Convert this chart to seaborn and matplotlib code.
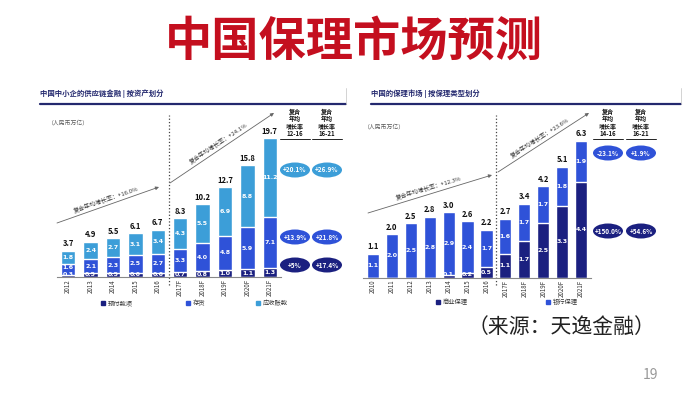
import numpy as np
import pandas as pd
import matplotlib
matplotlib.use("Agg")
import matplotlib.pyplot as plt
import seaborn as sns
from matplotlib.patches import Ellipse

# ---- chart data (人民币万亿) ----
left_years = ["2012", "2013", "2014", "2015", "2016",
              "2017F", "2018F", "2019F", "2020F", "2021F"]
left_prepaid = [0.3, 0.5, 0.5, 0.6, 0.6, 0.7, 0.8, 1.0, 1.1, 1.3]       # 预付款项
left_inventory = [1.6, 2.1, 2.3, 2.5, 2.7, 3.3, 4.0, 4.8, 5.9, 7.1]     # 存货
left_receivable = [1.8, 2.4, 2.7, 3.1, 3.4, 4.3, 5.5, 6.9, 8.8, 11.2]   # 应收账款
left_totals = [3.7, 4.9, 5.5, 6.1, 6.7, 8.3, 10.2, 12.7, 15.8, 19.7]

right_years = ["2010", "2011", "2012", "2013", "2014", "2015", "2016",
               "2017F", "2018F", "2019F", "2020F", "2021F"]
right_commercial = [0, 0, 0, 0, 0.1, 0.2, 0.5, 1.1, 1.7, 2.5, 3.3, 4.4]  # 商业保理
right_bank = [1.1, 2.0, 2.5, 2.8, 2.9, 2.4, 1.7, 1.6, 1.7, 1.7, 1.8, 1.9]  # 银行保理
right_totals = [1.1, 2.0, 2.5, 2.8, 3.0, 2.6, 2.2, 2.7, 3.4, 4.2, 5.1, 6.3]

left_cagr = ["复合年均增长率：+16.0%", "复合年均增长率：+24.1%"]
right_cagr = ["复合年均增长率：+12.3%", "复合年均增长率：+23.6%"]
left_bubbles = [["+20.1%", "+26.9%"], ["+13.9%", "+21.8%"], ["+5%", "+17.4%"]]
right_bubbles = [["-23.1%", "+1.9%"], ["+150.0%", "+54.6%"]]

# colours
NAVY = "#1b2080"
BLUE = "#2f52d8"
LIGHT = "#3c9ed8"
HEAD = "#23286e"

sns.set_style("white")
plt.rcParams["font.family"] = ["Noto Sans CJK SC", "DejaVu Sans"]

W, H = 700, 393
fig = plt.figure(figsize=(W / 100, H / 100), dpi=100)
fig.patch.set_facecolor("white")


def box(x0, y0, x1, y1):
    """pixel box (top-left origin) -> figure fraction rect"""
    return [x0 / W, 1 - y1 / H, (x1 - x0) / W, (y1 - y0) / H]


def stacked(ax, years, segments, colors, totals, ymax, min_lab, gap):
    df = pd.DataFrame({"year": years})
    tops = np.cumsum(np.array(segments), axis=0)
    # draw from the top segment down so lower ones overlay
    for i in range(len(segments) - 1, -1, -1):
        df["v"] = tops[i]
        sns.barplot(data=df, x="year", y="v", order=years, color=colors[i],
                    saturation=1, width=0.64, ax=ax, errorbar=None)
    bottoms = np.vstack([np.zeros(len(years)), tops[:-1]])
    for j in range(len(years)):
        prev = None
        for i, seg in enumerate(segments):
            v = seg[j]
            if v <= 0:
                continue
            y = bottoms[i][j] + max(v / 2, min_lab)
            if prev is not None and y - prev < gap:
                y = prev + gap   # keep stacked labels from touching
            prev = y
            ax.text(j, y, f"{v:.1f}", ha="center", va="center",
                    fontsize=4.5, color="white", fontweight="bold",
                    family="DejaVu Sans")
    for j, t in enumerate(totals):
        ax.text(j, tops[-1][j] + ymax * 0.015, f"{t:.1f}", ha="center",
                va="bottom", fontsize=5.5, fontweight="bold", color="#111")
    ax.set_ylim(0, ymax)
    ax.set_xlim(-0.5, len(years) - 0.5)
    ax.set_xlabel("")
    ax.set_ylabel("")
    ax.set_yticks([])
    for s in ["top", "right", "left"]:
        ax.spines[s].set_visible(False)
    ax.spines["bottom"].set_color("#888")
    ax.spines["bottom"].set_linewidth(0.8)
    ax.tick_params(axis="x", length=0, pad=1.5, labelsize=4.4,
                   labelcolor="#333", rotation=90)
    ax.patch.set_alpha(0)


axL = fig.add_axes(box(57, 119, 281, 277))
stacked(axL, left_years, [left_prepaid, left_inventory, left_receivable],
        [NAVY, BLUE, LIGHT], left_totals, 22.3, 0.36, 1.0)
axL.axvline(4.5, ymin=-0.05, ymax=1.025, ls=":", color="#444", lw=0.9,
            clip_on=False)

axR = fig.add_axes(box(363.5, 119, 590.5, 277.5))
stacked(axR, right_years, [right_commercial, right_bank],
        [NAVY, BLUE], right_totals, 7.3, 0.15, 0.33)
axR.axvline(6.5, ymin=-0.05, ymax=1.025, ls=":", color="#444", lw=0.9,
            clip_on=False)

# ---- overlay for slide decorations ----
ov = fig.add_axes([0, 0, 1, 1])
ov.set_xlim(0, W)
ov.set_ylim(H, 0)
ov.axis("off")
ov.patch.set_alpha(0)

ov.text(354, 42, "中国保理市场预测", ha="center", va="center", fontsize=34,
        fontweight="heavy", color="#c40f1f")

# panel headers
ov.text(40, 98, "中国中小企的供应链金融 | 按资产划分", fontsize=5.3,
        fontweight="bold", color=HEAD, va="bottom")
ov.text(371, 98, "中国的保理市场 | 按保理类型划分", fontsize=5.3,
        fontweight="bold", color=HEAD, va="bottom")
ov.plot([40, 346], [104, 104], color=HEAD, lw=1.6)
ov.plot([371, 681], [104, 104], color=HEAD, lw=1.6)
ov.plot([346, 346], [88, 104], color="#ccc", lw=0.6)
ov.plot([681, 681], [88, 104], color="#ccc", lw=0.6)
ov.text(48, 122, "（人民币万亿）", fontsize=4.2, color="#555", va="center")
ov.text(364, 126, "（人民币万亿）", fontsize=4.2, color="#555", va="center")


def cagr(p0, p1, label, off=5.5):
    p0, p1 = np.array(p0, float), np.array(p1, float)
    ov.annotate("", xy=p1, xytext=p0,
                arrowprops=dict(arrowstyle="-|>", color="#666", lw=0.6,
                                mutation_scale=5, shrinkA=0, shrinkB=0))
    d = p1 - p0
    ang = np.degrees(np.arctan2(-d[1], d[0]))
    n = np.array([d[1], -d[0]]) / np.hypot(*d)
    mid = p0 + 0.5 * d + off * n
    ov.text(mid[0], mid[1], label, rotation=ang, rotation_mode="anchor",
            ha="center", va="center", fontsize=4.3, color="#333")


cagr((57, 223), (159, 187), left_cagr[0])
cagr((170, 183), (274, 113), left_cagr[1])
cagr((368, 213), (492, 175), right_cagr[0])
cagr((498, 172), (589, 113), right_cagr[1])


def bubble_table(cols, periods, rows, ys, colors):
    for x, per in zip(cols, periods):
        ov.text(x, 137, "复合\n年均\n增长率\n" + per, ha="center", va="bottom",
                fontsize=4.3, fontweight="bold", color="#111", linespacing=1.05)
        ov.plot([x - 15, x + 15], [139, 139], color="#222", lw=0.7)
    for labels, y, c in zip(rows, ys, colors):
        for x, lab in zip(cols, labels):
            ov.add_patch(Ellipse((x, y), 30, 15, facecolor=c, edgecolor="none"))
            ov.text(x, y, lab, ha="center", va="center", fontsize=4.6,
                    fontweight="bold", color="white")


bubble_table([295, 327], ["12-16", "16-21"], left_bubbles, [170, 237, 265],
             [LIGHT, BLUE, NAVY])
bubble_table([608, 641], ["14-16", "16-21"], right_bubbles, [153, 231],
             [BLUE, NAVY])


def legend_item(x, y, color, label):
    ov.add_patch(plt.Rectangle((x - 2, y - 2), 4, 4, color=color))
    ov.text(x + 5, y, label, fontsize=4.5, color="#333", va="center")


legend_item(103, 303, NAVY, "预付款项")
legend_item(188, 303, BLUE, "存货")
legend_item(258, 303, LIGHT, "应收账款")
legend_item(438, 302, NAVY, "商业保理")
legend_item(548, 302, BLUE, "银行保理")

ov.text(561, 327, "（来源：天逸金融）", ha="center", va="center", fontsize=15,
        color="#222")
ov.text(650, 375, "19", ha="center", va="center", fontsize=10, color="#999")

fig.savefig("out.png", dpi=100, facecolor="white")
